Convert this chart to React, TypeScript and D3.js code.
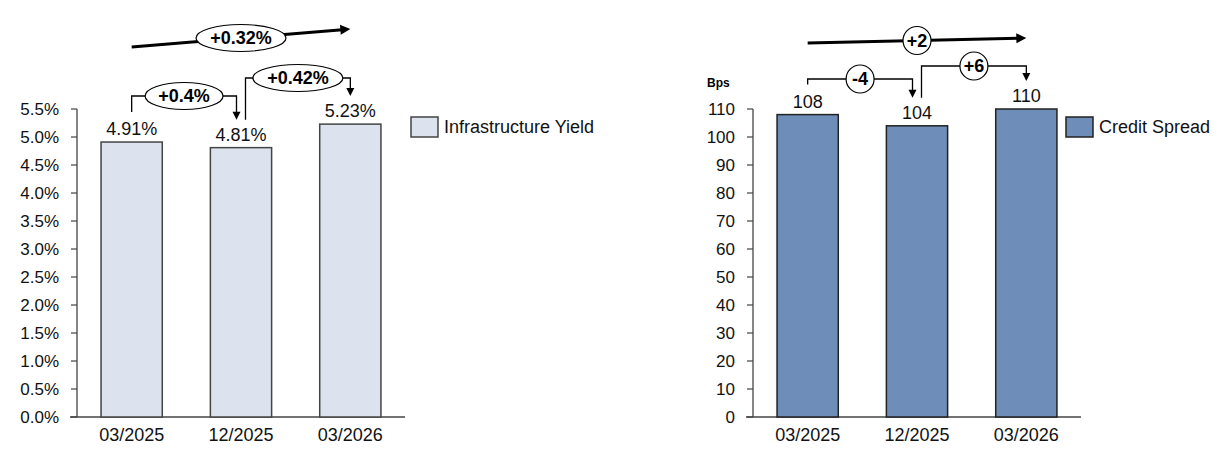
import React from "react";
import * as d3 from "d3";

const categories = ["03/2025", "12/2025", "03/2026"];
const yieldValues = [4.91, 4.81, 5.23];
const yieldLabels = ["4.91%", "4.81%", "5.23%"];
const yieldTicks = [0, 0.5, 1, 1.5, 2, 2.5, 3, 3.5, 4, 4.5, 5, 5.5];
const yieldChanges = ["+0.4%", "+0.42%"];
const yieldTotal = "+0.32%";

const spreadValues = [108, 104, 110];
const spreadLabels = ["108", "104", "110"];
const spreadTicks = [0, 10, 20, 30, 40, 50, 60, 70, 80, 90, 100, 110];
const spreadChanges = ["-4", "+6"];
const spreadTotal = "+2";

const FONT = "'Liberation Sans', Arial, sans-serif";

type PanelProps = {
  x0: number;
  values: number[];
  labels: string[];
  ticks: number[];
  yMax: number;
  tickFmt: (v: number) => string;
  fill: string;
  stroke: string;
  legend: string;
  legendX: number;
  changes: string[];
  total: string;
  oval: boolean;
  unit?: string;
  levels: { b1: number; b2: number; a0: number; a1: number };
};

function Arrowhead({ x, y, dir, size }: { x: number; y: number; dir: "down" | "right"; size: number }) {
  let pts: string;
  if (dir === "down") {
    pts = `${x - size / 2},${y - size} ${x + size / 2},${y - size} ${x},${y}`;
  } else {
    pts = `${x - size},${y - size / 2} ${x - size},${y + size / 2} ${x},${y}`;
  }
  return <polygon points={pts} fill="#000" />;
}

function Badge({ cx, cy, text, oval }: { cx: number; cy: number; text: string; oval: boolean }) {
  const rx = oval ? text.length * 6 + 9 : 14;
  const ry = oval ? 13.5 : 14;
  return (
    <g>
      <ellipse cx={cx} cy={cy} rx={rx} ry={ry} fill="#fff" stroke="#000" strokeWidth={1.2} />
      <text x={cx} y={cy} dy="0.36em" textAnchor="middle" fontFamily={FONT} fontWeight="bold" fontSize={18}>
        {text}
      </text>
    </g>
  );
}

function Panel(p: PanelProps) {
  const plotLeft = p.x0;
  const plotRight = p.x0 + 328;
  const x = d3.scaleBand<string>().domain(categories).range([plotLeft, plotRight]).paddingInner(0.44).paddingOuter(0.22);
  const y = d3.scaleLinear().domain([0, p.yMax]).range([417, 109]);
  const cx = (i: number) => (x(categories[i]) as number) + x.bandwidth() / 2;
  const lblOff = 28;

  const b1sx = cx(0);
  const b1ex = cx(1) - 4.5;
  const b2sx = cx(1) + 4.5;
  const b2ex = cx(2);
  const ang = (Math.atan2(p.levels.a1 - p.levels.a0, cx(2) - cx(0)) * 180) / Math.PI;

  return (
    <g>
      <line x1={plotLeft} x2={plotLeft} y1={y(p.yMax)} y2={y(0)} stroke="#444" strokeWidth={1.3} />
      <line x1={plotLeft - 7} x2={plotRight} y1={y(0)} y2={y(0)} stroke="#444" strokeWidth={1.5} />
      {p.ticks.map((t) => (
        <g key={t}>
          <line x1={plotLeft - 6} x2={plotLeft} y1={y(t)} y2={y(t)} stroke="#444" strokeWidth={1.2} />
          <text x={plotLeft - 18} y={y(t)} dy="0.35em" textAnchor="end" fontFamily={FONT} fontSize={17} fill="#111">
            {p.tickFmt(t)}
          </text>
        </g>
      ))}
      {p.unit && (
        <text x={plotLeft - 46} y={y(p.yMax) - 26} dy="0.35em" fontFamily={FONT} fontWeight="bold" fontSize={12}>
          {p.unit}
        </text>
      )}
      {categories.map((c, i) => (
        <g key={c}>
          <rect
            x={x(c)}
            y={y(p.values[i])}
            width={x.bandwidth()}
            height={y(0) - y(p.values[i])}
            fill={p.fill}
            stroke={p.stroke}
            strokeWidth={1.5}
          />
          <text x={cx(i)} y={y(p.values[i]) - 7} textAnchor="middle" fontFamily={FONT} fontSize={18} fill="#111">
            {p.labels[i]}
          </text>
          <text x={cx(i)} y={y(0) + 18} dy="0.35em" textAnchor="middle" fontFamily={FONT} fontSize={18} fill="#111">
            {c}
          </text>
        </g>
      ))}
      <polyline
        points={`${b1sx},${y(p.values[0]) - lblOff - 2} ${b1sx},${p.levels.b1} ${b1ex},${p.levels.b1} ${b1ex},${y(p.values[1]) - lblOff - 6}`}
        fill="none"
        stroke="#000"
        strokeWidth={1.3}
      />
      <Arrowhead x={b1ex} y={y(p.values[1]) - lblOff} dir="down" size={8} />
      <Badge cx={(b1sx + b1ex) / 2} cy={p.levels.b1} text={p.changes[0]} oval={p.oval} />
      <polyline
        points={`${b2sx},${y(p.values[1]) - lblOff} ${b2sx},${p.levels.b2} ${b2ex},${p.levels.b2} ${b2ex},${y(p.values[2]) - lblOff - 6}`}
        fill="none"
        stroke="#000"
        strokeWidth={1.3}
      />
      <Arrowhead x={b2ex} y={y(p.values[2]) - lblOff} dir="down" size={8} />
      <Badge cx={(b2sx + b2ex) / 2} cy={p.levels.b2} text={p.changes[1]} oval={p.oval} />
      <line
        x1={cx(0)}
        y1={p.levels.a0}
        x2={cx(2) - 8}
        y2={p.levels.a1 + ((p.levels.a0 - p.levels.a1) * 8) / (cx(2) - cx(0))}
        stroke="#000"
        strokeWidth={3}
      />
      <g transform={`rotate(${ang}, ${cx(2)}, ${p.levels.a1})`}>
        <Arrowhead x={cx(2)} y={p.levels.a1} dir="right" size={10} />
      </g>
      <Badge cx={cx(1)} cy={(p.levels.a0 + p.levels.a1) / 2} text={p.total} oval={p.oval} />
      <rect x={p.legendX} y={117} width={27} height={20} fill={p.fill} stroke={p.stroke} strokeWidth={1.5} />
      <text x={p.legendX + 33} y={127} dy="0.35em" fontFamily={FONT} fontSize={18} fill="#111">
        {p.legend}
      </text>
    </g>
  );
}

export default function App() {
  return (
    <svg width={1223} height={450} style={{ position: "absolute", left: 0, top: 0, background: "#fff" }}>
      <rect width={1223} height={450} fill="#fff" />
      <Panel
        x0={77}
        values={yieldValues}
        labels={yieldLabels}
        ticks={yieldTicks}
        yMax={5.5}
        tickFmt={(v) => v.toFixed(1) + "%"}
        fill="#dde3ee"
        stroke="#444"
        legend="Infrastructure Yield"
        legendX={411}
        changes={yieldChanges}
        total={yieldTotal}
        oval={true}
        levels={{ b1: 96, b2: 78, a0: 47, a1: 29 }}
      />
      <Panel
        x0={753}
        values={spreadValues}
        labels={spreadLabels}
        ticks={spreadTicks}
        yMax={110}
        tickFmt={(v) => String(v)}
        fill="#6e8db9"
        stroke="#222"
        legend="Credit Spread"
        legendX={1066}
        changes={spreadChanges}
        total={spreadTotal}
        oval={false}
        unit="Bps"
        levels={{ b1: 79, b2: 66, a0: 43, a1: 38 }}
      />
    </svg>
  );
}
